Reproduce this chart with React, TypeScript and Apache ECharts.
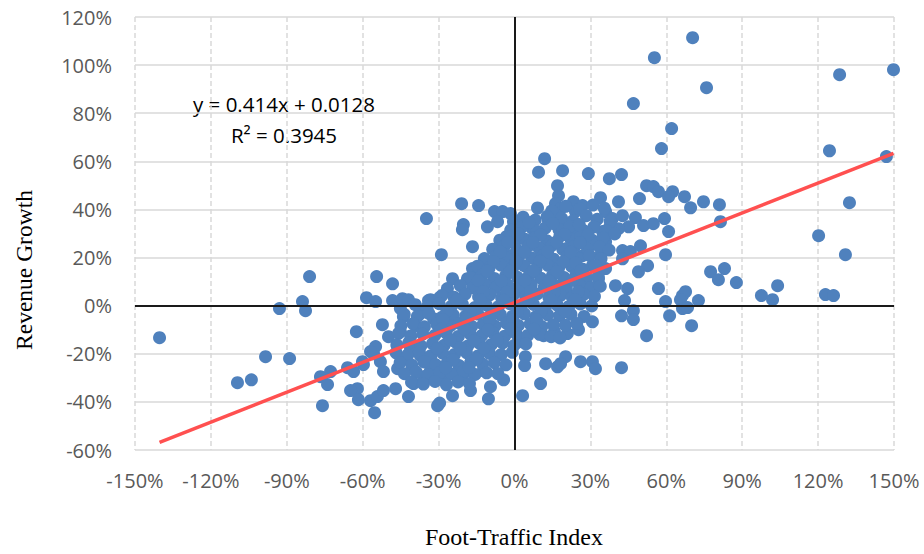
import React, { useEffect, useRef } from "react";
import * as echarts from "echarts";

// Foot-Traffic Index (%) vs Revenue Growth (%)
const farLeft: number[][] = [
  [-140.3, -13.3], [-109.5, -32.0], [-104.0, -30.8], [-98.4, -21.2], [-88.9, -22.0],
  [-92.9, -1.2], [-83.8, 1.7], [-82.6, -2.1], [-81.0, 12.1], [-75.9, -41.6],
  [-76.7, -29.5], [-72.7, -27.4], [-73.9, -32.8], [-66.0, -25.8], [-63.6, -27.4],
  [-62.5, -10.8], [-62.1, -34.5], [-64.8, -35.3], [-61.7, -39.1], [-60.1, -23.3],
];

const leftCluster: number[][] = [
  [-59.7, -24.5], [-56.9, -39.5], [-55.3, -44.5], [-54.2, -37.8], [-55.7, -20.0],
  [-54.9, -17.0], [-56.9, -19.1], [-53.0, -23.3], [-51.8, -27.4], [-51.8, -35.3],
  [-47.0, -34.5], [-41.9, -37.8], [-39.9, -32.4], [-36.0, -29.5], [-30.4, -41.6],
  [-29.6, -40.5], [-46.2, -26.2], [-43.9, -22.0], [-37.2, -20.8], [-33.2, -27.0],
  [-41.1, -17.9], [-49.8, -12.9], [-45.1, -10.8], [-52.2, -7.9], [-39.1, -8.3],
  [-43.9, -4.6], [-37.2, -3.3], [-45.1, -1.2], [-48.2, 2.1], [-44.3, 2.9],
  [-41.9, 2.5], [-58.5, 3.3], [-54.9, 1.7], [-54.5, 12.1], [-48.2, 9.1],
  [-36.4, -2.5], [-34.0, 2.1], [-33.2, 2.5], [-29.6, 3.3], [-32.0, -5.4],
  [-25.3, -8.3], [-34.8, 36.2], [-28.9, 21.2],
];

const lowerNearZero: number[][] = [
  [-24.5, -37.4], [-17.4, -35.3], [-9.5, -33.7], [-10.3, -38.7], [-4.3, -30.8],
  [3.2, -37.4], [-12.3, -27.0], [-20.2, -28.3], [-28.1, -30.4], [10.3, -32.4],
  [4.3, -21.2], [4.0, -24.9], [12.3, -24.1], [17.0, -25.4], [20.2, -21.2],
  [18.2, -24.1], [26.1, -23.3], [30.8, -23.3], [32.0, -26.2], [42.3, -25.8],
  [1.6, -15.0], [11.5, -12.5], [15.8, -10.8], [20.9, -11.6], [25.3, -10.0],
  [9.5, -10.4], [30.8, -6.7],
];

const upperLeft: number[][] = [
  [-20.9, 42.4], [-14.2, 41.6], [-20.2, 33.7], [-20.6, 31.6], [-16.6, 24.5],
  [-10.7, 32.8], [-7.9, 39.1], [-4.7, 39.1], [-1.6, 38.3], [-6.7, 34.9],
  [-0.4, 34.9], [-3.2, 28.7], [-24.5, 11.2], [-26.5, 7.1], [-18.6, 11.2],
  [-16.6, 15.4], [-14.2, 14.1], [-9.5, 17.5], [-4.3, 19.5], [-1.6, 20.8],
];

const upperRight: number[][] = [
  [11.9, 61.1], [9.5, 55.5], [19.0, 56.1], [29.2, 54.9], [37.5, 52.8],
  [42.3, 54.5], [17.0, 49.9], [17.4, 45.7], [16.2, 42.4], [18.2, 40.3],
  [15.8, 38.3], [23.3, 43.2], [26.9, 41.6], [24.1, 39.1], [34.0, 44.9],
  [41.1, 43.2], [36.0, 39.1], [38.7, 36.2], [42.7, 37.4], [47.8, 36.6],
  [45.1, 32.8], [41.1, 32.0], [49.4, 44.5], [52.2, 49.9], [54.9, 49.5],
  [56.9, 47.4], [62.5, 47.4], [60.9, 45.3], [51.0, 33.3], [54.9, 34.1],
  [59.3, 36.2], [60.9, 30.8], [67.2, 45.3], [69.6, 40.7], [74.7, 43.2],
  [81.0, 42.0], [81.4, 34.9], [13.4, 35.3], [17.4, 32.8], [7.1, 32.0],
  [0.4, 35.3], [22.9, 29.9], [29.2, 27.9], [34.8, 30.8], [37.2, 32.0],
  [36.0, 26.6], [42.7, 22.9], [45.8, 22.5], [49.8, 24.9], [52.6, 16.6],
  [59.7, 21.2], [49.0, 14.1], [42.7, 19.5], [39.9, 8.3], [44.7, 7.1],
  [56.9, 7.1], [59.7, 1.7], [66.4, 4.2], [67.6, 5.8], [65.6, 2.5],
  [72.7, 2.1], [61.3, -4.2], [66.4, -1.2], [68.4, -0.8], [70.0, -8.3],
  [52.2, -12.5], [47.0, -2.1], [47.0, -5.8], [42.3, -4.2], [43.5, 2.1],
  [36.0, 15.4], [34.0, 20.8], [33.2, 11.2], [28.1, 10.0], [30.8, 16.6],
  [26.9, 20.8], [20.2, 23.7], [12.3, 23.7], [1.6, 27.9],
];

const farRight: number[][] = [
  [70.4, 111.4], [55.3, 103.1], [75.9, 90.6], [47.0, 84.0], [128.5, 96.0],
  [149.8, 98.1], [62.1, 73.6], [58.1, 65.3], [124.5, 64.4], [147.0, 62.0],
  [132.4, 42.8], [120.2, 29.1], [130.8, 21.2], [122.9, 4.6], [126.1, 4.2],
  [97.6, 4.2], [102.0, 2.5], [104.0, 8.3], [87.7, 9.6], [83.0, 15.4],
  [77.5, 14.1], [80.6, 10.8],
];

const core: number[][] = [
  [9.1, 40.6], [14.7, 39.4], [20.2, 41.3], [25.8, 40.2], [31.0, 41.8], [35.5, 40.5],
  [3.4, 36.8], [8.2, 35.6], [12.9, 37.1], [18.6, 36.3], [23.1, 35.2], [28.4, 37.4], [32.7, 35.9], [37.8, 35.1],
  [-1.5, 31.4], [3.0, 32.7], [8.8, 30.9], [12.1, 32.2], [17.6, 31.6], [21.9, 33.0], [27.3, 31.2], [31.4, 32.8], [36.2, 31.1], [39.6, 29.8],
  [-5.8, 27.2], [-1.1, 28.9], [4.2, 27.6], [8.0, 28.3], [12.7, 27.0], [17.9, 28.8], [22.4, 27.4], [26.1, 28.5], [30.8, 27.1], [35.0, 28.2],
  [-8.6, 23.5], [-4.0, 24.8], [0.9, 23.2], [5.3, 24.6], [9.7, 23.9], [14.8, 25.1], [19.1, 23.4], [23.7, 24.7], [28.9, 23.6], [33.6, 24.4], [37.4, 23.1],
  [-11.9, 19.6], [-7.2, 20.7], [-2.8, 19.2], [1.6, 20.4], [6.9, 19.8], [11.3, 21.0], [15.5, 19.3], [20.8, 20.6], [25.0, 19.7], [29.6, 20.9], [34.2, 19.5],
  [-14.6, 16.4], [-10.1, 15.5], [-5.4, 16.9], [-0.7, 15.8], [3.8, 16.6], [8.5, 15.2], [13.2, 16.8], [17.4, 15.6], [22.6, 16.3], [27.1, 15.1], [31.9, 16.7],
  [-17.3, 11.6], [-12.8, 12.7], [-8.0, 11.3], [-3.5, 12.4], [1.2, 11.8], [5.9, 12.9], [10.4, 11.4], [15.0, 12.5], [19.6, 11.7], [24.3, 12.8], [28.5, 11.5], [33.1, 12.2],
  [-21.4, 8.3], [-16.5, 7.4], [-11.7, 8.8], [-7.3, 7.6], [-2.6, 8.5], [2.0, 7.2], [6.6, 8.7], [11.8, 7.8], [16.1, 8.4], [20.5, 7.3], [25.7, 8.6], [30.2, 7.5], [33.9, 8.1],
  [-28.7, 4.2], [-23.9, 3.5], [-19.5, 4.8], [-14.2, 3.7], [-9.8, 4.5], [-5.1, 3.3], [-0.3, 4.6], [4.4, 3.8], [9.0, 4.9], [13.6, 3.4], [18.3, 4.3], [22.8, 3.6], [27.4, 4.7], [31.6, 3.9],
  [-39.2, 0.4], [-34.5, -0.6], [-29.8, 0.8], [-25.0, -0.3], [-20.6, 0.6], [-15.7, -0.8], [-11.2, 0.3], [-6.4, -0.5], [-1.9, 0.9], [2.7, -0.2], [7.5, 0.5], [12.2, -0.7], [16.9, 0.2], [21.4, -0.4], [26.0, 0.7], [30.5, -0.1],
  [-43.6, -3.6], [-38.4, -4.5], [-33.9, -3.2], [-28.6, -4.8], [-24.2, -3.9], [-19.3, -4.3], [-14.5, -3.5], [-10.0, -4.6], [-5.6, -3.7], [-0.8, -4.4], [3.9, -3.4], [8.4, -4.7], [13.1, -3.8], [17.8, -4.2], [22.3, -3.6], [27.5, -4.5],
  [-44.9, -8.4], [-40.1, -7.5], [-35.6, -8.8], [-30.7, -7.7], [-26.1, -8.3], [-21.8, -7.4], [-16.9, -8.6], [-12.4, -7.8], [-7.7, -8.5], [-3.2, -7.3], [1.5, -8.2], [6.2, -7.6], [10.8, -8.7], [15.3, -7.9], [20.1, -8.1], [24.6, -7.4],
  [-45.8, -11.5], [-41.0, -12.6], [-36.3, -11.8], [-31.5, -12.3], [-27.0, -11.4], [-22.2, -12.8], [-17.6, -11.7], [-13.0, -12.5], [-8.5, -11.3], [-3.9, -12.7], [0.6, -11.6], [5.2, -12.4], [9.9, -11.9], [14.5, -12.9], [18.0, -13.4],
  [-46.5, -16.3], [-41.8, -15.4], [-37.0, -16.7], [-32.4, -15.8], [-27.8, -16.5], [-23.1, -15.3], [-18.5, -16.8], [-13.9, -15.6], [-9.2, -16.2], [-4.7, -15.5], [-0.2, -16.6], [4.5, -15.9],
  [-46.8, -19.6], [-42.2, -20.5], [-37.6, -19.3], [-33.0, -20.8], [-28.4, -19.7], [-23.7, -20.3], [-19.0, -19.5], [-14.4, -20.9], [-9.9, -19.8], [-5.3, -20.4], [-0.9, -19.4],
  [-45.2, -23.6], [-40.6, -24.7], [-35.8, -23.4], [-31.2, -24.5], [-26.6, -23.8], [-21.9, -24.9], [-17.3, -23.5], [-12.6, -24.3], [-8.0, -23.7], [-3.4, -24.6],
  [-43.5, -28.3], [-38.9, -27.5], [-34.1, -28.7], [-29.5, -27.8], [-24.8, -28.4], [-20.2, -27.3], [-15.6, -28.6], [-11.0, -27.9], [-6.6, -28.2],
  [-40.7, -31.8], [-36.0, -32.6], [-31.4, -31.5], [-26.9, -32.9], [-22.3, -31.7], [-17.8, -32.4],
];

const coreFill: number[][] = [
  [5.7, 34.6], [15.2, 34.2], [25.6, 33.7],
  [1.4, 29.8], [10.3, 29.4], [19.8, 29.6], [29.1, 29.5],
  [-2.6, 26.4], [7.2, 26.3], [16.6, 26.5], [25.9, 26.2],
  [-5.6, 22.4], [3.9, 22.2], [13.1, 22.5], [22.2, 22.3],
  [-8.3, 18.4], [0.6, 18.3], [10.1, 18.5], [19.3, 18.2], [24.2, 17.8],
  [-10.9, 14.4], [-1.8, 14.3], [7.5, 14.5], [16.9, 14.2], [26.4, 14.6],
  [-14.4, 10.5], [-5.2, 10.3], [4.1, 10.4], [13.7, 10.2], [22.9, 10.6],
  [-12.3, 5.8], [-3.0, 5.6], [6.4, 5.9], [15.7, 5.7], [25.2, 5.8],
  [-22.8, 2.3], [-13.4, 2.5], [-4.1, 2.2], [5.3, 2.6], [14.6, 2.3], [23.9, 2.5],
  [-26.8, -2.3], [-17.5, -2.5], [-8.2, -2.2], [1.1, -2.6], [10.5, -2.3], [19.9, -2.4],
  [-28.3, -5.8], [-19.0, -5.6], [-9.8, -5.9], [-0.6, -5.7], [8.7, -5.8],
  [-29.0, -9.8], [-19.8, -9.6], [-10.5, -9.9], [-1.4, -9.7], [7.7, -9.8],
  [-25.3, -14.3], [-16.0, -14.6], [-6.8, -14.4],
  [-30.6, -17.8], [-21.4, -17.5], [-12.1, -17.7],
  [-24.3, -22.5], [-15.1, -22.3],
  [-27.2, -25.8], [-18.0, -25.7],
];

const trendSlope = 0.414;
const trendIntercept = 1.28; // percent (0.0128)
const equationText = "y = 0.414x + 0.0128";
const r2Text = "R\u00B2 = 0.3945";
const xTitle = "Foot-Traffic Index";
const yTitle = "Revenue Growth";

export default function App() {
  const ref = useRef<HTMLDivElement>(null);
  useEffect(() => {
    if (!ref.current) return;
    const chart = echarts.init(ref.current, null, { renderer: "svg" });
    const points = [
      ...farLeft, ...leftCluster, ...lowerNearZero, ...upperLeft,
      ...upperRight, ...farRight, ...core, ...coreFill,
    ];
    const xs = points.map((p) => p[0]);
    const xMin = Math.min(...xs);
    const xMax = Math.max(...xs);
    const trend = [
      [xMin, trendSlope * xMin + trendIntercept],
      [xMax, trendSlope * xMax + trendIntercept],
    ];
    const labelStyle = {
      fontFamily: "Open Sans",
      fontSize: 20,
      color: "#595959",
    };
    chart.setOption({
      animation: false,
      grid: { left: 135, right: 30, top: 17, bottom: 104, containLabel: false },
      xAxis: {
        type: "value",
        min: -150,
        max: 150,
        interval: 30,
        axisLine: { show: false, onZero: false },
        axisTick: { show: false },
        axisLabel: { ...labelStyle, margin: 20, formatter: "{value}%" },
        splitLine: {
          show: true,
          lineStyle: { color: "#d9d9d9", width: 1.5, type: [5, 3] },
        },
      },
      yAxis: {
        type: "value",
        min: -60,
        max: 120,
        interval: 20,
        axisLine: { show: false, onZero: false },
        axisTick: { show: false },
        axisLabel: { ...labelStyle, margin: 23, formatter: "{value}%" },
        splitLine: {
          show: true,
          lineStyle: { color: "#d9d9d9", width: 1.5, type: "solid" },
        },
      },
      series: [
        {
          type: "line",
          data: [],
          silent: true,
          z: 1,
          markLine: {
            silent: true,
            symbol: ["none", "none"],
            label: { show: false },
            lineStyle: { color: "#1a1a1a", width: 2, type: "solid" },
            emphasis: { disabled: true },
            data: [{ xAxis: 0 }, { yAxis: 0 }],
          },
        },
        {
          type: "scatter",
          data: points,
          symbolSize: 13,
          z: 2,
          itemStyle: { color: "#4F81BD", opacity: 1 },
        },
        {
          type: "line",
          data: trend,
          z: 3,
          showSymbol: false,
          symbol: "none",
          lineStyle: { color: "#FF5050", width: 3.5 },
        },
      ],
      graphic: [
        {
          type: "text",
          x: 284,
          y: 104,
          style: {
            text: equationText,
            fontFamily: "Open Sans",
            fontSize: 20.5,
            fill: "#000",
            textAlign: "center",
            textVerticalAlign: "middle",
          },
        },
        {
          type: "text",
          x: 284,
          y: 135,
          style: {
            text: r2Text,
            fontFamily: "Open Sans",
            fontSize: 20.5,
            fill: "#000",
            textAlign: "center",
            textVerticalAlign: "middle",
          },
        },
        {
          type: "text",
          x: 514,
          y: 537,
          style: {
            text: xTitle,
            fontFamily: "Liberation Serif",
            fontSize: 24,
            fill: "#000",
            textAlign: "center",
            textVerticalAlign: "middle",
          },
        },
        {
          type: "text",
          x: 24,
          y: 270,
          rotation: Math.PI / 2,
          style: {
            text: yTitle,
            fontFamily: "Liberation Serif",
            fontSize: 23.5,
            fill: "#000",
            textAlign: "center",
            textVerticalAlign: "middle",
          },
        },
      ],
    });
    return () => chart.dispose();
  }, []);
  return (
    <div
      ref={ref}
      style={{ position: "absolute", left: 0, top: 0, width: 924, height: 554 }}
    />
  );
}
